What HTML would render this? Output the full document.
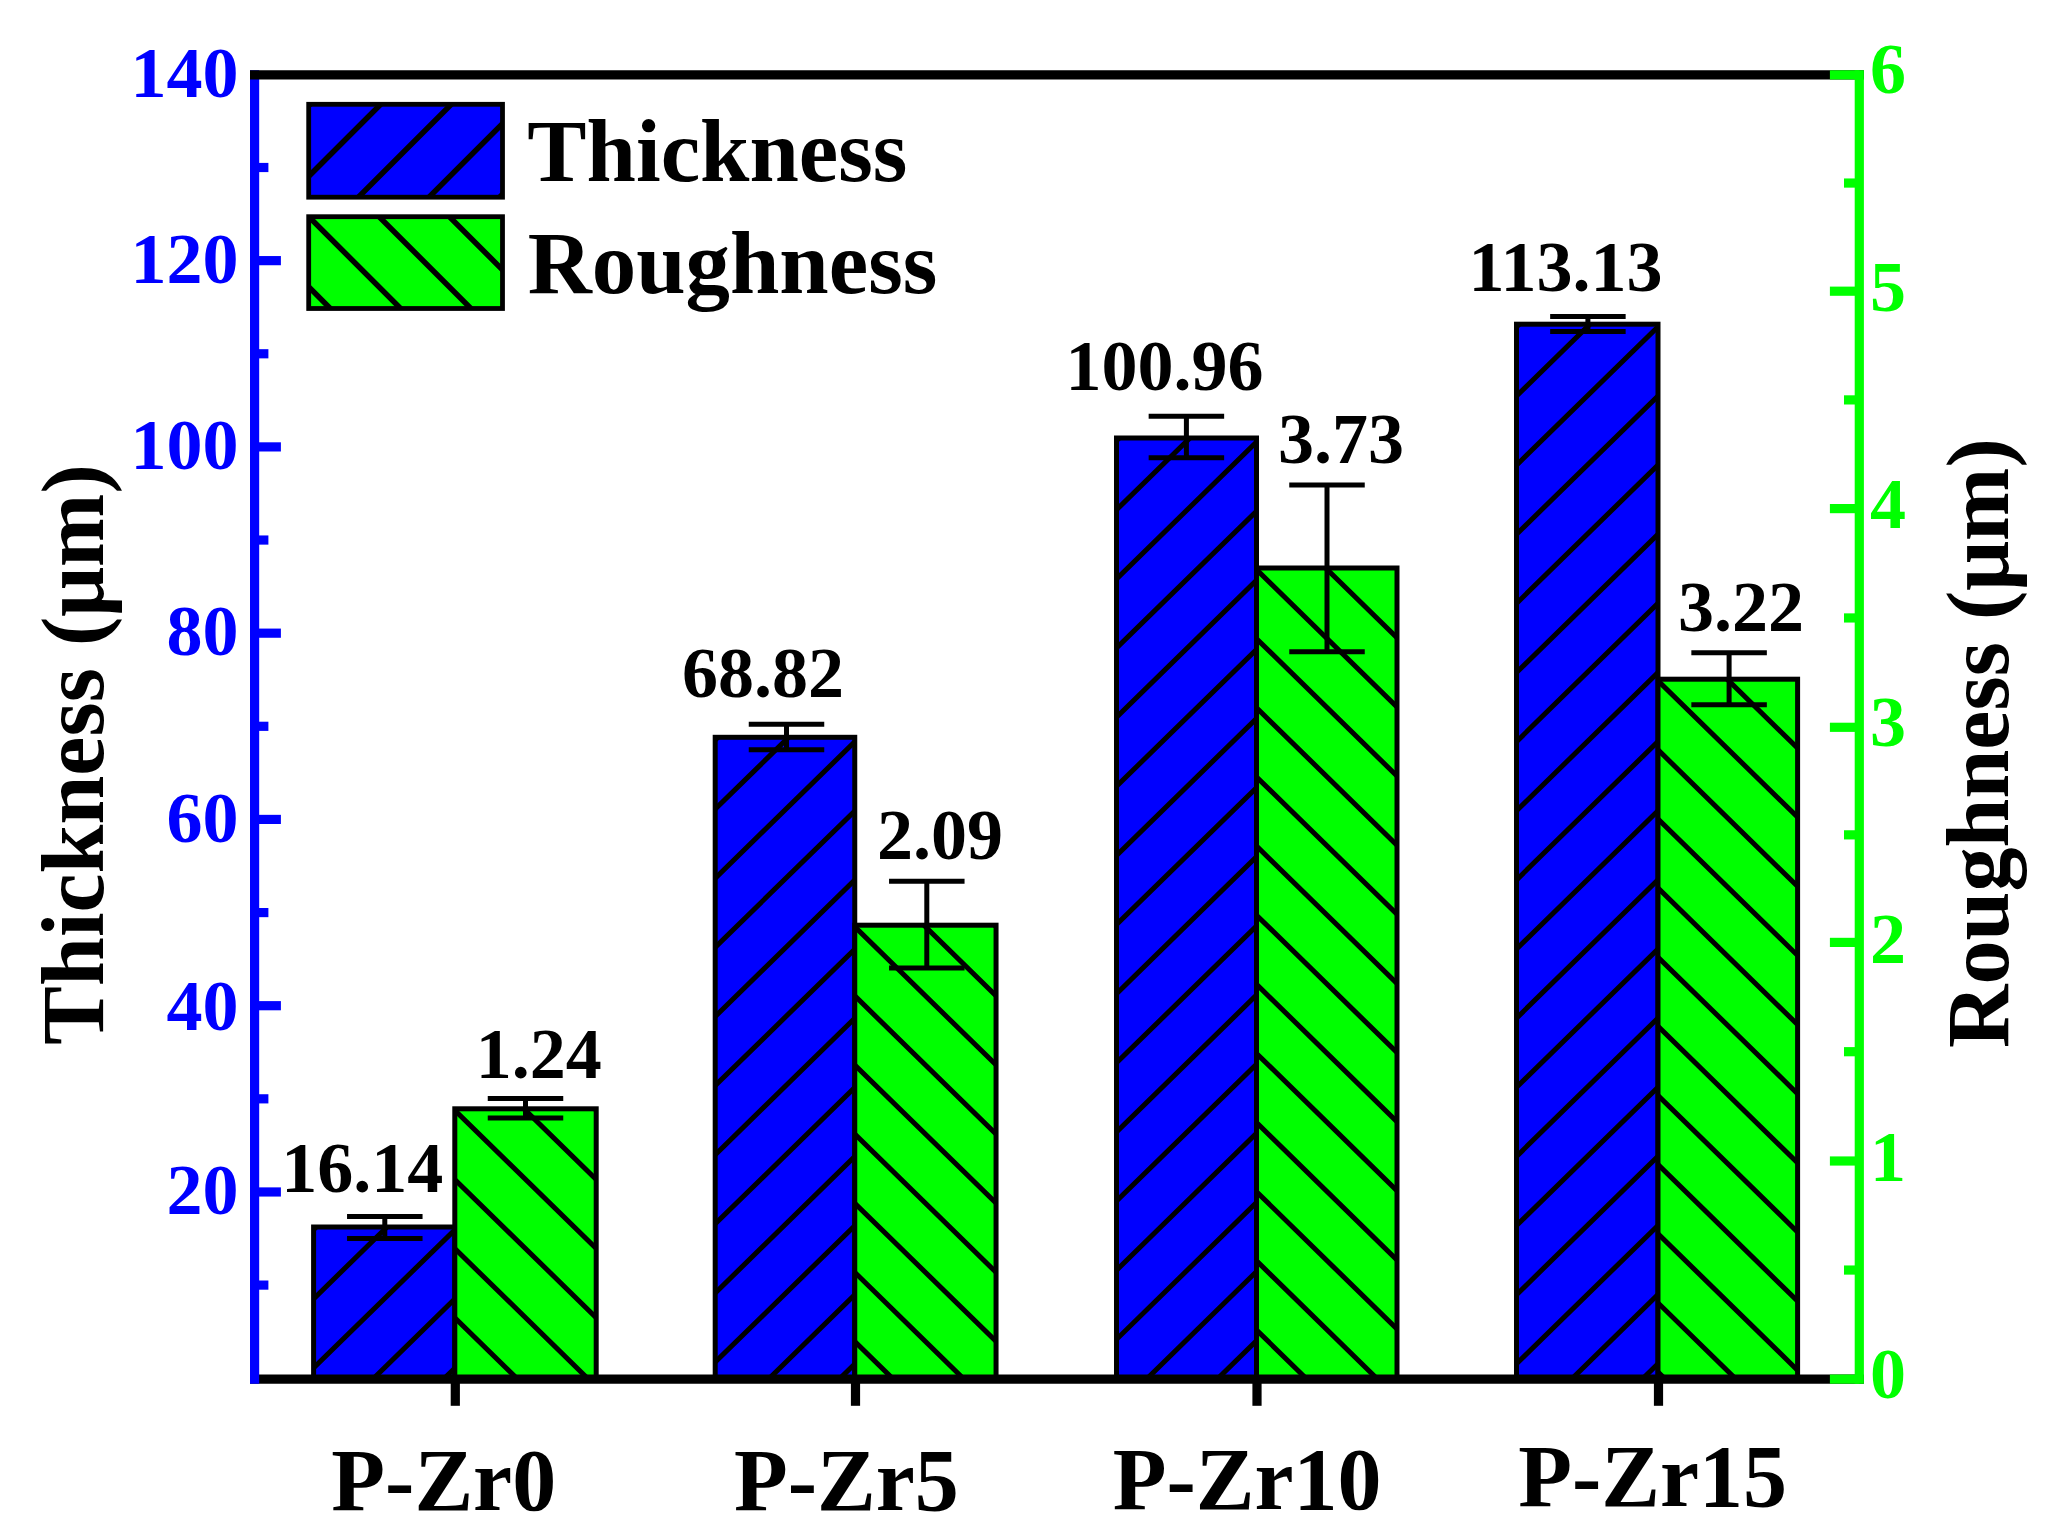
<!DOCTYPE html>
<html lang="en"><head><meta charset="utf-8"><title>Thickness and Roughness</title>
<style>
html,body{margin:0;padding:0;background:#fff}
svg{display:block}
text{font-family:"Liberation Serif",serif;font-weight:bold;fill:#000}
</style></head><body>
<svg width="2069" height="1529" viewBox="0 0 2069 1529">
<rect width="2069" height="1529" fill="#fff"/>
<defs>
<clipPath id="c1"><rect x="313.60" y="1227.00" width="141.20" height="152.10"/></clipPath>
<clipPath id="c2"><rect x="454.80" y="1108.80" width="141.40" height="270.30"/></clipPath>
<clipPath id="c3"><rect x="715.20" y="737.30" width="139.55" height="641.80"/></clipPath>
<clipPath id="c4"><rect x="854.75" y="925.20" width="141.30" height="453.90"/></clipPath>
<clipPath id="c5"><rect x="1116.50" y="438.00" width="140.00" height="941.10"/></clipPath>
<clipPath id="c6"><rect x="1256.50" y="568.00" width="140.50" height="811.10"/></clipPath>
<clipPath id="c7"><rect x="1516.50" y="324.20" width="141.50" height="1054.90"/></clipPath>
<clipPath id="c8"><rect x="1658.00" y="679.20" width="139.60" height="699.90"/></clipPath>
<clipPath id="c9"><rect x="308.70" y="104.30" width="193.80" height="92.90"/></clipPath>
<clipPath id="c10"><rect x="308.70" y="216.70" width="193.80" height="91.80"/></clipPath>
</defs>
<rect x="313.60" y="1227.00" width="141.20" height="152.10" fill="#0000ff"/>
<path clip-path="url(#c1)" d="M305.60 1237.52L462.80 1083.78M305.60 1306.65L462.80 1152.91M305.60 1375.78L462.80 1222.04M305.60 1444.91L462.80 1291.17M305.60 1514.04L462.80 1360.30" stroke="#000" stroke-width="5.0" fill="none"/>
<rect x="313.60" y="1227.00" width="141.20" height="152.10" fill="none" stroke="#000" stroke-width="5.0" stroke-linejoin="miter"/>
<rect x="454.80" y="1108.80" width="141.40" height="270.30" fill="#00ff00"/>
<path clip-path="url(#c2)" d="M446.80 964.22L604.20 1118.15M446.80 1033.35L604.20 1187.28M446.80 1102.48L604.20 1256.41M446.80 1171.61L604.20 1325.54M446.80 1240.74L604.20 1394.67M446.80 1309.87L604.20 1463.80M446.80 1379.00L604.20 1532.93" stroke="#000" stroke-width="5.0" fill="none"/>
<rect x="454.80" y="1108.80" width="141.40" height="270.30" fill="none" stroke="#000" stroke-width="5.0" stroke-linejoin="miter"/>
<rect x="715.20" y="737.30" width="139.55" height="641.80" fill="#0000ff"/>
<path clip-path="url(#c3)" d="M707.20 747.82L862.75 595.70M707.20 816.95L862.75 664.83M707.20 886.08L862.75 733.96M707.20 955.21L862.75 803.09M707.20 1024.34L862.75 872.22M707.20 1093.47L862.75 941.35M707.20 1162.60L862.75 1010.48M707.20 1231.73L862.75 1079.61M707.20 1300.86L862.75 1148.74M707.20 1369.99L862.75 1217.87M707.20 1439.12L862.75 1287.00M707.20 1508.25L862.75 1356.13" stroke="#000" stroke-width="5.0" fill="none"/>
<rect x="715.20" y="737.30" width="139.55" height="641.80" fill="none" stroke="#000" stroke-width="5.0" stroke-linejoin="miter"/>
<rect x="854.75" y="925.20" width="141.30" height="453.90" fill="#00ff00"/>
<path clip-path="url(#c4)" d="M846.75 780.62L1004.05 934.46M846.75 849.75L1004.05 1003.59M846.75 918.88L1004.05 1072.72M846.75 988.01L1004.05 1141.85M846.75 1057.14L1004.05 1210.98M846.75 1126.27L1004.05 1280.11M846.75 1195.40L1004.05 1349.24M846.75 1264.53L1004.05 1418.37M846.75 1333.66L1004.05 1487.50" stroke="#000" stroke-width="5.0" fill="none"/>
<rect x="854.75" y="925.20" width="141.30" height="453.90" fill="none" stroke="#000" stroke-width="5.0" stroke-linejoin="miter"/>
<rect x="1116.50" y="438.00" width="140.00" height="941.10" fill="#0000ff"/>
<path clip-path="url(#c5)" d="M1108.50 448.52L1264.50 295.96M1108.50 517.65L1264.50 365.09M1108.50 586.78L1264.50 434.22M1108.50 655.91L1264.50 503.35M1108.50 725.04L1264.50 572.48M1108.50 794.17L1264.50 641.61M1108.50 863.30L1264.50 710.74M1108.50 932.43L1264.50 779.87M1108.50 1001.56L1264.50 849.00M1108.50 1070.69L1264.50 918.13M1108.50 1139.82L1264.50 987.26M1108.50 1208.95L1264.50 1056.39M1108.50 1278.08L1264.50 1125.52M1108.50 1347.21L1264.50 1194.65M1108.50 1416.34L1264.50 1263.78M1108.50 1485.47L1264.50 1332.91" stroke="#000" stroke-width="5.0" fill="none"/>
<rect x="1116.50" y="438.00" width="140.00" height="941.10" fill="none" stroke="#000" stroke-width="5.0" stroke-linejoin="miter"/>
<rect x="1256.50" y="568.00" width="140.50" height="811.10" fill="#00ff00"/>
<path clip-path="url(#c6)" d="M1248.50 423.42L1405.00 576.47M1248.50 492.55L1405.00 645.60M1248.50 561.68L1405.00 714.73M1248.50 630.81L1405.00 783.86M1248.50 699.94L1405.00 852.99M1248.50 769.07L1405.00 922.12M1248.50 838.20L1405.00 991.25M1248.50 907.33L1405.00 1060.38M1248.50 976.46L1405.00 1129.51M1248.50 1045.59L1405.00 1198.64M1248.50 1114.72L1405.00 1267.77M1248.50 1183.85L1405.00 1336.90M1248.50 1252.98L1405.00 1406.03M1248.50 1322.11L1405.00 1475.16" stroke="#000" stroke-width="5.0" fill="none"/>
<rect x="1256.50" y="568.00" width="140.50" height="811.10" fill="none" stroke="#000" stroke-width="5.0" stroke-linejoin="miter"/>
<rect x="1516.50" y="324.20" width="141.50" height="1054.90" fill="#0000ff"/>
<path clip-path="url(#c7)" d="M1508.50 334.72L1666.00 180.69M1508.50 403.85L1666.00 249.82M1508.50 472.98L1666.00 318.95M1508.50 542.11L1666.00 388.08M1508.50 611.24L1666.00 457.21M1508.50 680.37L1666.00 526.34M1508.50 749.50L1666.00 595.47M1508.50 818.63L1666.00 664.60M1508.50 887.76L1666.00 733.73M1508.50 956.89L1666.00 802.86M1508.50 1026.02L1666.00 871.99M1508.50 1095.15L1666.00 941.12M1508.50 1164.28L1666.00 1010.25M1508.50 1233.41L1666.00 1079.38M1508.50 1302.54L1666.00 1148.51M1508.50 1371.67L1666.00 1217.64M1508.50 1440.80L1666.00 1286.77M1508.50 1509.93L1666.00 1355.90" stroke="#000" stroke-width="5.0" fill="none"/>
<rect x="1516.50" y="324.20" width="141.50" height="1054.90" fill="none" stroke="#000" stroke-width="5.0" stroke-linejoin="miter"/>
<rect x="1658.00" y="679.20" width="139.60" height="699.90" fill="#00ff00"/>
<path clip-path="url(#c8)" d="M1650.00 534.62L1805.60 686.79M1650.00 603.75L1805.60 755.92M1650.00 672.88L1805.60 825.05M1650.00 742.01L1805.60 894.18M1650.00 811.14L1805.60 963.31M1650.00 880.27L1805.60 1032.44M1650.00 949.40L1805.60 1101.57M1650.00 1018.53L1805.60 1170.70M1650.00 1087.66L1805.60 1239.83M1650.00 1156.79L1805.60 1308.96M1650.00 1225.92L1805.60 1378.09M1650.00 1295.05L1805.60 1447.22M1650.00 1364.18L1805.60 1516.35" stroke="#000" stroke-width="5.0" fill="none"/>
<rect x="1658.00" y="679.20" width="139.60" height="699.90" fill="none" stroke="#000" stroke-width="5.0" stroke-linejoin="miter"/>
<path d="M384.80 1216.60V1238.60M347.05 1216.60H422.55M347.05 1238.60H422.55" stroke="#000" stroke-width="5.0" fill="none" stroke-linecap="butt"/>
<path d="M525.50 1098.60V1118.00M487.75 1098.60H563.25M487.75 1118.00H563.25" stroke="#000" stroke-width="5.0" fill="none" stroke-linecap="butt"/>
<path d="M786.50 724.20V749.80M748.75 724.20H824.25M748.75 749.80H824.25" stroke="#000" stroke-width="5.0" fill="none" stroke-linecap="butt"/>
<path d="M926.80 881.30V968.00M889.05 881.30H964.55M889.05 968.00H964.55" stroke="#000" stroke-width="5.0" fill="none" stroke-linecap="butt"/>
<path d="M1186.40 416.30V457.70M1148.65 416.30H1224.15M1148.65 457.70H1224.15" stroke="#000" stroke-width="5.0" fill="none" stroke-linecap="butt"/>
<path d="M1327.00 485.10V651.70M1289.25 485.10H1364.75M1289.25 651.70H1364.75" stroke="#000" stroke-width="5.0" fill="none" stroke-linecap="butt"/>
<path d="M1587.90 316.40V331.40M1550.15 316.40H1625.65M1550.15 331.40H1625.65" stroke="#000" stroke-width="5.0" fill="none" stroke-linecap="butt"/>
<path d="M1729.10 652.70V704.70M1691.35 652.70H1766.85M1691.35 704.70H1766.85" stroke="#000" stroke-width="5.0" fill="none" stroke-linecap="butt"/>
<line x1="250" y1="1379.1" x2="1863.90" y2="1379.1" stroke="#000" stroke-width="9.2"/>
<line x1="455.3" y1="1379.1" x2="455.3" y2="1405.8" stroke="#000" stroke-width="9.2"/>
<line x1="855.5" y1="1379.1" x2="855.5" y2="1405.8" stroke="#000" stroke-width="9.2"/>
<line x1="1257.0" y1="1379.1" x2="1257.0" y2="1405.8" stroke="#000" stroke-width="9.2"/>
<line x1="1658.5" y1="1379.1" x2="1658.5" y2="1405.8" stroke="#000" stroke-width="9.2"/>
<line x1="254.6" y1="70.30" x2="254.6" y2="1383.70" stroke="#0000ff" stroke-width="9.2"/>
<line x1="254.6" y1="1285.10" x2="268.4" y2="1285.10" stroke="#0000ff" stroke-width="9.2"/>
<line x1="254.6" y1="1191.97" x2="280.9" y2="1191.97" stroke="#0000ff" stroke-width="9.2"/>
<line x1="254.6" y1="1098.83" x2="268.4" y2="1098.83" stroke="#0000ff" stroke-width="9.2"/>
<line x1="254.6" y1="1005.70" x2="280.9" y2="1005.70" stroke="#0000ff" stroke-width="9.2"/>
<line x1="254.6" y1="912.57" x2="268.4" y2="912.57" stroke="#0000ff" stroke-width="9.2"/>
<line x1="254.6" y1="819.43" x2="280.9" y2="819.43" stroke="#0000ff" stroke-width="9.2"/>
<line x1="254.6" y1="726.30" x2="268.4" y2="726.30" stroke="#0000ff" stroke-width="9.2"/>
<line x1="254.6" y1="633.17" x2="280.9" y2="633.17" stroke="#0000ff" stroke-width="9.2"/>
<line x1="254.6" y1="540.04" x2="268.4" y2="540.04" stroke="#0000ff" stroke-width="9.2"/>
<line x1="254.6" y1="446.90" x2="280.9" y2="446.90" stroke="#0000ff" stroke-width="9.2"/>
<line x1="254.6" y1="353.77" x2="268.4" y2="353.77" stroke="#0000ff" stroke-width="9.2"/>
<line x1="254.6" y1="260.64" x2="280.9" y2="260.64" stroke="#0000ff" stroke-width="9.2"/>
<line x1="254.6" y1="167.50" x2="268.4" y2="167.50" stroke="#0000ff" stroke-width="9.2"/>
<line x1="250" y1="74.9" x2="1863.90" y2="74.9" stroke="#000" stroke-width="9.2"/>
<line x1="1859.3" y1="70.30" x2="1859.3" y2="1383.70" stroke="#00ff00" stroke-width="9.2"/>
<line x1="1859.3" y1="1379.10" x2="1829.9" y2="1379.10" stroke="#00ff00" stroke-width="9.2"/>
<line x1="1859.3" y1="1270.05" x2="1844.0" y2="1270.05" stroke="#00ff00" stroke-width="9.2"/>
<line x1="1859.3" y1="1161.00" x2="1829.9" y2="1161.00" stroke="#00ff00" stroke-width="9.2"/>
<line x1="1859.3" y1="1051.70" x2="1844.0" y2="1051.70" stroke="#00ff00" stroke-width="9.2"/>
<line x1="1859.3" y1="942.40" x2="1829.9" y2="942.40" stroke="#00ff00" stroke-width="9.2"/>
<line x1="1859.3" y1="834.85" x2="1844.0" y2="834.85" stroke="#00ff00" stroke-width="9.2"/>
<line x1="1859.3" y1="727.30" x2="1829.9" y2="727.30" stroke="#00ff00" stroke-width="9.2"/>
<line x1="1859.3" y1="617.95" x2="1844.0" y2="617.95" stroke="#00ff00" stroke-width="9.2"/>
<line x1="1859.3" y1="508.60" x2="1829.9" y2="508.60" stroke="#00ff00" stroke-width="9.2"/>
<line x1="1859.3" y1="399.90" x2="1844.0" y2="399.90" stroke="#00ff00" stroke-width="9.2"/>
<line x1="1859.3" y1="291.20" x2="1829.9" y2="291.20" stroke="#00ff00" stroke-width="9.2"/>
<line x1="1859.3" y1="183.05" x2="1844.0" y2="183.05" stroke="#00ff00" stroke-width="9.2"/>
<line x1="1859.3" y1="74.90" x2="1829.9" y2="74.90" stroke="#00ff00" stroke-width="9.2"/>
<text x="238.5" y="1213.77" text-anchor="end" style="fill:#0000ff" font-size="72">20</text>
<text x="238.5" y="1029.50" text-anchor="end" style="fill:#0000ff" font-size="72">40</text>
<text x="238.5" y="842.43" text-anchor="end" style="fill:#0000ff" font-size="72">60</text>
<text x="238.5" y="654.57" text-anchor="end" style="fill:#0000ff" font-size="72">80</text>
<text x="238.5" y="469.20" text-anchor="end" style="fill:#0000ff" font-size="72">100</text>
<text x="238.5" y="282.94" text-anchor="end" style="fill:#0000ff" font-size="72">120</text>
<text x="238.5" y="97.17" text-anchor="end" style="fill:#0000ff" font-size="72">140</text>
<text x="1870" y="1398.10" style="fill:#00ff00" font-size="72">0</text>
<text x="1870" y="1180.60" style="fill:#00ff00" font-size="72">1</text>
<text x="1870" y="963.10" style="fill:#00ff00" font-size="72">2</text>
<text x="1870" y="745.60" style="fill:#00ff00" font-size="72">3</text>
<text x="1870" y="528.10" style="fill:#00ff00" font-size="72">4</text>
<text x="1870" y="310.60" style="fill:#00ff00" font-size="72">5</text>
<text x="1870" y="93.10" style="fill:#00ff00" font-size="72">6</text>
<text x="362.15" y="1192.00" text-anchor="middle" font-size="72">16.14</text>
<text x="763.05" y="697.30" text-anchor="middle" font-size="72">68.82</text>
<text x="1164.60" y="390.40" text-anchor="middle" font-size="72">100.96</text>
<text x="1565.45" y="290.50" text-anchor="middle" font-size="72">113.13</text>
<text x="538.85" y="1077.70" text-anchor="middle" font-size="72">1.24</text>
<text x="939.95" y="858.60" text-anchor="middle" font-size="72">2.09</text>
<text x="1340.95" y="463.30" text-anchor="middle" font-size="72">3.73</text>
<text x="1741.05" y="631.30" text-anchor="middle" font-size="72">3.22</text>
<text x="443.75" y="1509.60" text-anchor="middle" font-size="88">P-Zr0</text>
<text x="846.35" y="1509.60" text-anchor="middle" font-size="88">P-Zr5</text>
<text x="1247.05" y="1508.80" text-anchor="middle" font-size="88">P-Zr10</text>
<text x="1652.65" y="1505.70" text-anchor="middle" font-size="88">P-Zr15</text>
<text transform="translate(103.3 754.50) rotate(-90)" text-anchor="middle" font-size="88">Thickness (μm)</text>
<text transform="translate(2008.3 743.15) rotate(-90)" text-anchor="middle" font-size="88">Roughness (μm)</text>
<rect x="308.70" y="104.30" width="193.80" height="92.90" fill="#0000ff"/>
<path clip-path="url(#c9)" d="M302.70 111.70L508.50 -94.10M302.70 182.30L508.50 -23.50M302.70 252.90L508.50 47.10M302.70 323.50L508.50 117.70M302.70 394.10L508.50 188.30" stroke="#000" stroke-width="5.5" fill="none"/>
<rect x="308.70" y="104.30" width="193.80" height="92.90" fill="none" stroke="#000" stroke-width="4.8" stroke-linejoin="miter"/>
<rect x="308.70" y="216.70" width="193.80" height="91.80" fill="#00ff00"/>
<path clip-path="url(#c10)" d="M302.70 280.90L508.50 486.70M302.70 210.60L508.50 416.40M302.70 140.30L508.50 346.10M302.70 70.00L508.50 275.80" stroke="#000" stroke-width="5.5" fill="none"/>
<rect x="308.70" y="216.70" width="193.80" height="91.80" fill="none" stroke="#000" stroke-width="4.8" stroke-linejoin="miter"/>
<text x="717.35" y="181.4" text-anchor="middle" font-size="88.8">Thickness</text>
<text x="732.45" y="292.7" text-anchor="middle" font-size="88.8">Roughness</text>
</svg>
</body></html>
